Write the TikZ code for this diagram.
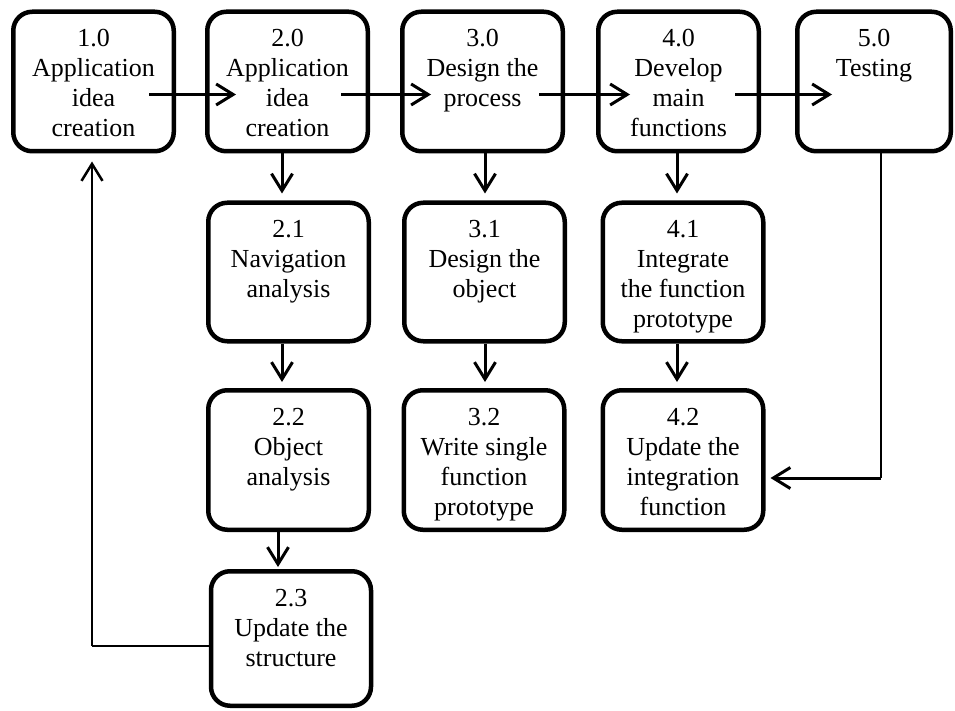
\documentclass[tikz,border=0pt]{standalone}
\usepackage{fontspec}
\setmainfont{Liberation Serif}
\usetikzlibrary{arrows.meta,calc}
\newcommand\boxtxt[2]{\parbox[c][\dimexpr#1-35.5pt\relax][t]{150pt}{\centering\fontsize{26}{30}\selectfont #2}}
\tikzset{
  box/.style 2 args={draw, line width=4.5pt, rounded corners=19pt, fill=white,
    inner sep=0pt, minimum width=#1, minimum height=#2},
  arr/.style={line width=3pt, -{Straight Barb[length=17pt,width=21pt]}},
  thinline/.style={line width=1.3pt}
}
\begin{document}
\begin{tikzpicture}[x=1pt,y=-1pt]
\useasboundingbox (0,0) rectangle (955,711);
% row 0
\node[box={160.5pt}{139.5pt}] (n10) at (93.5,81.5) {\boxtxt{139.5pt}{1.0\\Application\\idea\\creation}};
\node[box={160.5pt}{139.5pt}] (n20) at (287.5,81.5) {\boxtxt{139.5pt}{2.0\\Application\\idea\\creation}};
\node[box={160.5pt}{139.5pt}] (n30) at (482.5,81.5) {\boxtxt{139.5pt}{3.0\\Design the\\process}};
\node[box={160.5pt}{139.5pt}] (n40) at (678.5,81.5) {\boxtxt{139.5pt}{4.0\\Develop\\main\\functions}};
\node[box={153.5pt}{139.5pt}] (n50) at (874,81.5) {\boxtxt{139.5pt}{5.0\\Testing}};
% row 1
\node[box={160.5pt}{138.5pt}] (n21) at (288.5,272) {\boxtxt{138.5pt}{2.1\\Navigation\\analysis}};
\node[box={160.5pt}{138.5pt}] (n31) at (484.5,272) {\boxtxt{138.5pt}{3.1\\Design the\\object}};
\node[box={160.5pt}{138.5pt}] (n41) at (683,272) {\boxtxt{138.5pt}{4.1\\Integrate\\the function\\prototype}};
% row 2
\node[box={160.5pt}{139.5pt}] (n22) at (288.5,460) {\boxtxt{139.5pt}{2.2\\Object\\analysis}};
\node[box={160.5pt}{139.5pt}] (n32) at (484,460) {\boxtxt{139.5pt}{3.2\\Write single\\function\\prototype}};
\node[box={160.5pt}{139.5pt}] (n42) at (683,460) {\boxtxt{139.5pt}{4.2\\Update the\\integration\\function}};
% row 3
\node[box={160pt}{134.5pt}] (n23) at (291,638.5) {\boxtxt{134.5pt}{2.3\\Update the\\structure}};
% horizontal arrows
\draw[arr] ([shift={(-27pt,-13pt)}]n10.east) -- ([shift={(31pt,-13pt)}]n20.west);
\draw[arr] ([shift={(-29pt,-13pt)}]n20.east) -- ([shift={(31pt,-13pt)}]n30.west);
\draw[arr] ([shift={(-26pt,-13pt)}]n30.east) -- ([shift={(34pt,-13pt)}]n40.west);
\draw[arr] ([shift={(-26pt,-13pt)}]n40.east) -- ([shift={(37pt,-13pt)}]n50.west);
% vertical arrows
\draw[arr] ([xshift=-5.5pt]n20.south) -- ([xshift=-6.5pt,yshift=7pt]n21.north);
\draw[arr] ([xshift=-6.5pt]n21.south) -- ([xshift=-6.5pt,yshift=6pt]n22.north);
\draw[arr] ([xshift=-10.5pt]n22.south) -- ([xshift=-13pt,yshift=2pt]n23.north);
\draw[arr] ([xshift=2.5pt]n30.south) -- ([xshift=0.5pt,yshift=7pt]n31.north);
\draw[arr] ([xshift=0.5pt]n31.south) -- ([xshift=1pt,yshift=6pt]n32.north);
\draw[arr] ([xshift=-1.5pt]n40.south) -- ([xshift=-6pt,yshift=7pt]n41.north);
\draw[arr] ([xshift=-6pt]n41.south) -- ([xshift=-6pt,yshift=6pt]n42.north);
% feedback from 5.0 to 4.2
\coordinate (c5) at (881,478);
\draw[thinline] (n50.south -| c5) -- (c5);
\draw[arr] (c5) -- ($(n42.east |- c5)+(5pt,0)$);
% loop from 2.3 to 1.0
\coordinate (c23) at (92,646);
\draw[thinline] (n23.west |- c23) -- (c23);
\draw[arr, line width=2.5pt] (c23) -- ($(c23 |- n10.south)+(0,-8pt)$);
\end{tikzpicture}
\end{document}
